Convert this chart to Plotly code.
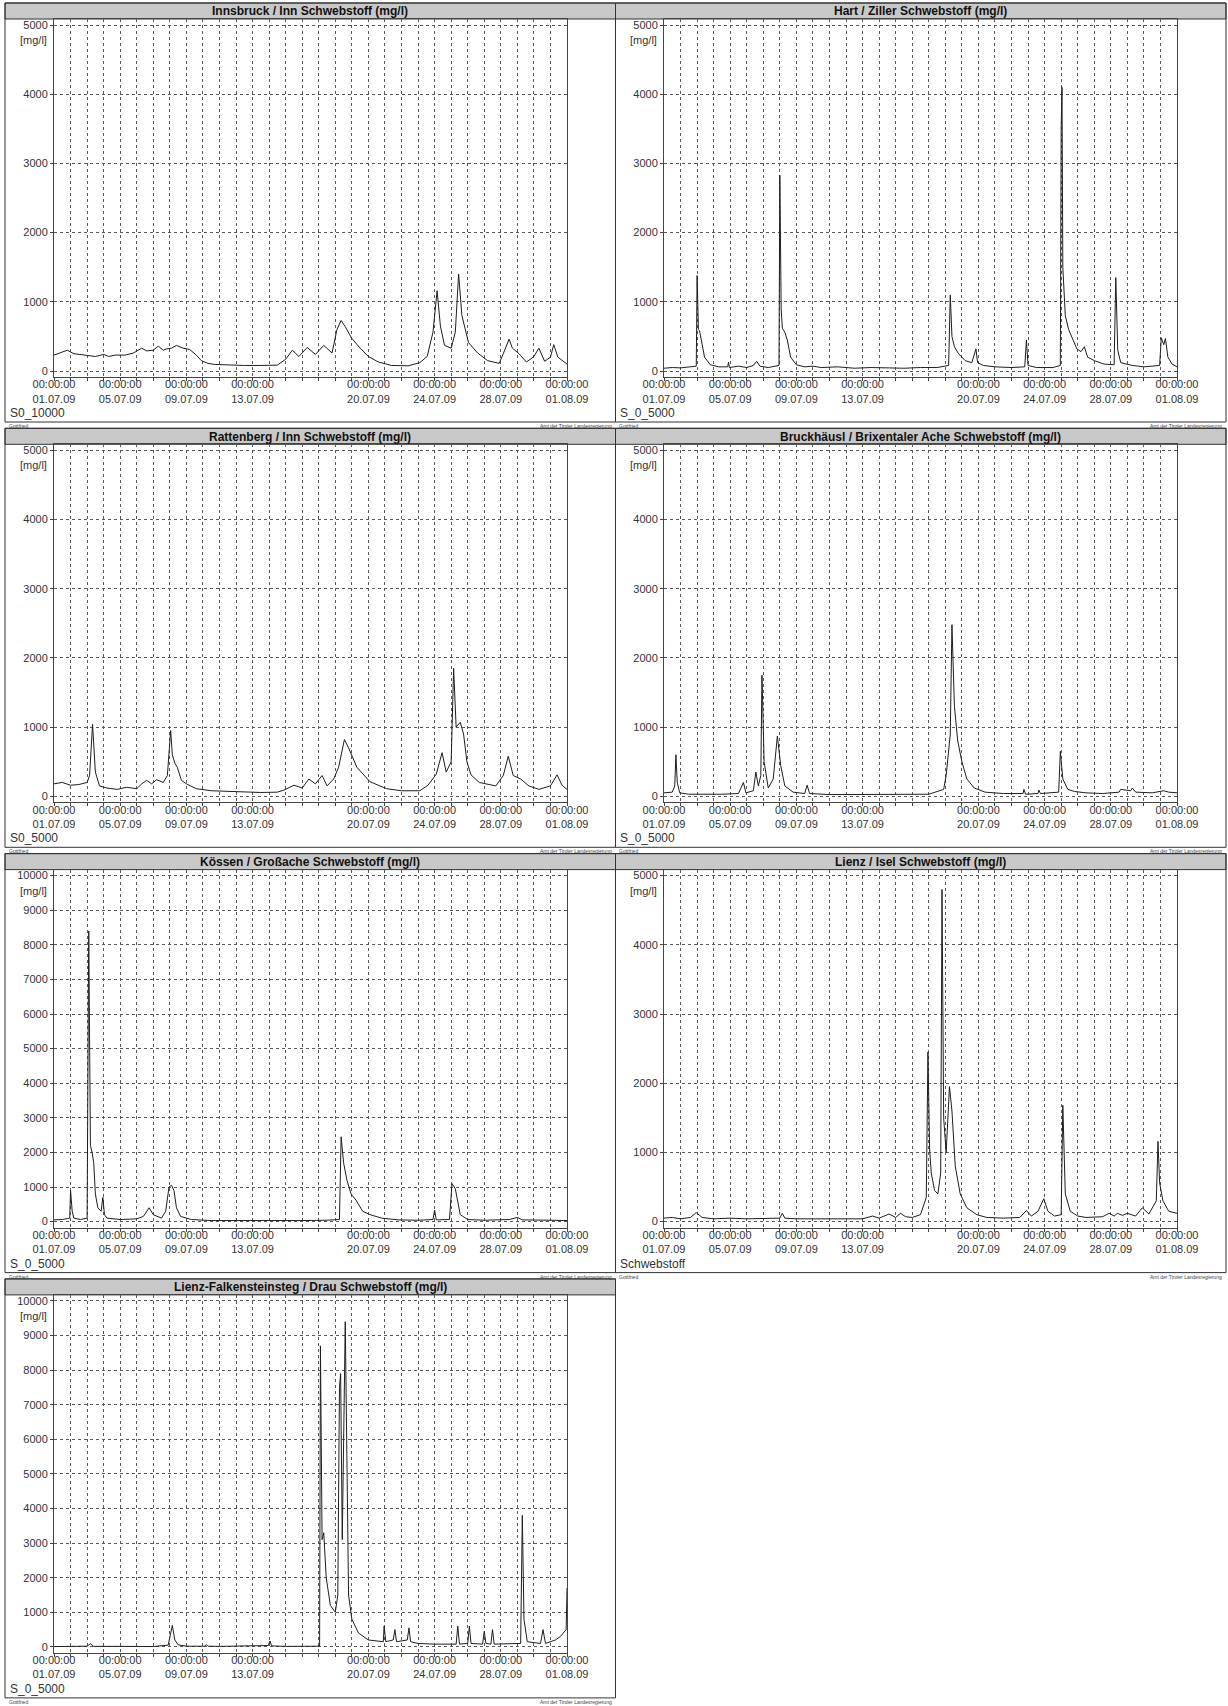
import plotly.graph_objects as go
import pandas as pd

W, H = 1228, 1706
BASE = pd.Timestamp("2009-07-01")
END = pd.Timestamp("2009-08-01")

# ---------------- data (days after 01.07.09 00:00, value in mg/l) ----------------
titles = [
    "Innsbruck / Inn Schwebstoff (mg/l)",
    "Hart / Ziller Schwebstoff (mg/l)",
    "Rattenberg / Inn Schwebstoff (mg/l)",
    "Bruckhäusl / Brixentaler Ache Schwebstoff (mg/l)",
    "Kössen / Großache Schwebstoff (mg/l)",
    "Lienz / Isel Schwebstoff (mg/l)",
    "Lienz-Falkensteinsteg / Drau Schwebstoff (mg/l)",
]
y_max = [5000, 5000, 5000, 5000, 10000, 5000, 10000]
bottom_labels = ["S0_10000", "S_0_5000", "S0_5000", "S_0_5000", "S_0_5000", "Schwebstoff", "S_0_5000"]
tick_labels = ["01.07.09", "05.07.09", "09.07.09", "13.07.09", "20.07.09", "24.07.09", "28.07.09", "01.08.09"]

innsbruck_days = [0, 0.4, 0.8, 1.2, 1.6, 2.0, 2.5, 3.0, 3.3, 3.7, 4.3, 4.8, 5.3, 5.6, 6.0, 6.3, 6.6, 6.8, 7.1, 7.4,
                  7.8, 8.2, 8.6, 8.9, 9.3, 9.7, 10.5, 11.5, 12.5, 13.5, 14.0, 14.4, 14.8, 15.3, 15.8, 16.3, 16.8,
                  17.1, 17.35, 17.6, 18.0, 18.5, 19.0, 19.6, 20.4, 21.4, 22.1, 22.55, 22.9, 23.15, 23.35, 23.6,
                  24.0, 24.25, 24.45, 24.65, 25.05, 25.6, 26.2, 26.9, 27.15, 27.5, 27.7, 28.1, 28.55, 29.0, 29.3,
                  29.65, 30.0, 30.2, 30.45, 31.0]
innsbruck_vals = [230, 260, 300, 250, 240, 230, 210, 240, 210, 230, 230, 260, 330, 290, 300, 360, 300, 320, 330, 370,
                  330, 310, 230, 150, 110, 95, 85, 80, 80, 85, 170, 300, 210, 340, 240, 370, 260,
                  600, 730, 640, 470, 330, 210, 130, 80, 75, 120, 210, 560, 1160, 650, 370,
                  330, 560, 1400, 800, 410, 260, 150, 110, 250, 460, 330, 250, 130, 210, 330,
                  140, 200, 380, 200, 100]

hart_days = [0, 0.5, 1.0, 1.5, 1.95, 2.0, 2.08, 2.15, 2.25, 2.45, 2.8, 3.3, 3.85, 3.9, 3.95, 4.5, 5.0, 5.4, 5.6, 5.8,
             6.3, 6.95, 7.0, 7.08, 7.15, 7.3, 7.45, 7.65, 8.0, 8.5, 9.0, 9.5, 10.5, 11.5, 12.5, 13.5, 14.5, 15.5,
             16.5, 17.2, 17.3, 17.4, 17.55, 17.8, 18.2, 18.6, 18.85, 18.95, 19.3, 20.0, 21.0, 21.8, 21.9, 22.0,
             22.5, 23.5, 23.95, 24.0, 24.05, 24.1, 24.25, 24.45, 24.7, 24.95, 25.2, 25.4, 25.6, 26.0, 26.6, 27.2,
             27.3, 27.42, 27.6, 28.3, 29.0, 29.5, 29.95, 30.05, 30.2, 30.3, 30.45, 30.7, 31.0]
hart_vals = [40, 50, 45, 60, 70, 1380, 600, 580, 450, 200, 90, 60, 60, 130, 50, 70, 50, 80, 140, 70,
             50, 80, 2830, 900, 620, 560, 450, 200, 90, 60, 70, 50, 60, 40, 50, 40, 40, 50,
             50, 80, 1100, 500, 350, 250, 150, 120, 320, 120, 80, 60, 50, 60, 450, 80,
             50, 50, 80, 3500, 4100, 1500, 800, 600, 450, 320, 280, 350, 200, 150, 100, 90,
             1350, 300, 120, 80, 60, 70, 80, 480, 380, 470, 200, 100, 60]

rattenberg_days = [0, 0.5, 1.0, 1.5, 2.0, 2.15, 2.33, 2.5, 2.75, 3.2, 3.8, 4.4, 5.0, 5.3, 5.6, 5.9, 6.2, 6.6, 6.85,
                   7.05, 7.15, 7.3, 7.45, 7.7, 8.0, 8.6, 9.5, 10.5, 11.5, 12.5, 13.5, 13.9, 14.5, 15.0, 15.4, 15.8,
                   16.2, 16.5, 16.9, 17.2, 17.55, 17.8, 18.3, 19.1, 20.1, 21.0, 22.1, 22.6, 23.1, 23.45, 23.7, 24.0,
                   24.15, 24.3, 24.55, 24.75, 24.95, 25.2, 25.7, 26.7, 27.15, 27.45, 27.75, 28.2, 28.7, 29.3, 30.0,
                   30.4, 30.7, 31.0]
rattenberg_vals = [180, 200, 160, 170, 200, 300, 1040, 350, 150, 120, 100, 130, 110, 180, 230, 180, 240, 200, 300,
                   950, 600, 480, 420, 230, 180, 110, 80, 70, 60, 55, 60, 90, 160, 120, 250, 180,
                   300, 150, 250, 420, 820, 700, 420, 210, 110, 80, 80, 160, 320, 630, 350, 500,
                   1850, 1000, 1070, 900, 500, 310, 200, 150, 300, 580, 300, 250, 150, 100, 150,
                   310, 160, 100]

bruck_days = [0, 0.5, 0.65, 0.72, 0.8, 0.95, 1.5, 2.5, 3.5, 4.5, 4.8, 4.95, 5.4, 5.55, 5.7, 5.85, 5.92, 6.05, 6.3,
              6.6, 6.85, 7.05, 7.3, 7.8, 8.5, 8.65, 8.8, 10.0, 12.0, 14.0, 16.0, 16.9, 17.05, 17.3, 17.4, 17.55,
              17.75, 18.0, 18.3, 18.75, 19.4, 20.5, 21.7, 21.75, 21.85, 22.6, 22.65, 22.75, 23.85, 23.95, 24.1,
              24.4, 24.8, 25.5, 26.5, 27.5, 27.6, 28.2, 28.3, 28.5, 29.5, 30.2, 30.5, 31.0]
bruck_vals = [50, 60, 150, 600, 200, 50, 30, 25, 30, 40, 200, 50, 80, 350, 150, 300, 1750, 500, 120,
              250, 870, 450, 150, 60, 40, 160, 40, 25, 25, 30, 30, 100, 300, 900, 2480, 1300,
              800, 500, 250, 120, 60, 40, 40, 100, 30, 40, 90, 40, 60, 650, 250,
              100, 70, 50, 40, 60, 100, 80, 120, 60, 50, 80, 60, 50]

koessen_days = [0, 0.5, 0.95, 1.0, 1.1, 1.2, 1.6, 2.0, 2.1, 2.2, 2.3, 2.4, 2.5, 2.65, 2.85, 2.95, 3.05, 3.2, 4.0,
                5.0, 5.4, 5.75, 6.0, 6.5, 6.75, 6.95, 7.1, 7.25, 7.4, 7.65, 8.3, 9.5, 11.0, 13.0, 15.0, 16.5,
                17.25, 17.35, 17.5, 17.7, 17.95, 18.25, 18.65, 19.1, 19.8, 20.8, 22.0, 22.9, 23.0, 23.1, 23.9,
                24.05, 24.25, 24.55, 25.0, 26.0, 27.5, 28.0, 28.3, 30.0, 31.0]
koessen_vals = [50, 60, 100, 900, 300, 100, 60, 100, 8400, 2200, 2000, 1700, 800, 400, 300, 700, 200, 100, 60,
                80, 150, 400, 200, 100, 300, 1000, 1050, 900, 400, 150, 60, 30, 30, 25, 30, 40,
                60, 2450, 1700, 1200, 800, 620, 300, 200, 100, 50, 40, 60, 330, 50, 60,
                1100, 950, 200, 60, 40, 60, 120, 50, 40, 30]

isel_days = [0, 0.5, 1.0, 1.6, 1.95, 2.3, 3.0, 4.0, 5.0, 6.0, 7.0, 7.15, 7.3, 8.0, 9.0, 10.0, 11.0, 12.0, 12.6, 13.0,
             13.6, 14.0, 14.3, 14.6, 15.0, 15.5, 15.85, 15.95, 16.05, 16.15, 16.35, 16.55, 16.72, 16.8, 16.9,
             17.05, 17.25, 17.4, 17.6, 17.9, 18.3, 18.9, 19.5, 20.5, 21.5, 21.9, 22.2, 22.6, 22.95, 23.2, 23.6,
             24.0, 24.1, 24.25, 24.55, 25.0, 25.5, 26.5, 26.9, 27.2, 27.4, 27.7, 28.0, 28.5, 28.9, 29.3, 29.75,
             29.85, 29.95, 30.15, 30.5, 31.0]
isel_vals = [50, 60, 40, 60, 130, 60, 40, 50, 40, 50, 50, 120, 50, 40, 40, 35, 40, 40, 80, 50,
             110, 60, 120, 70, 60, 100, 350, 2450, 1050, 700, 450, 400, 700, 4800, 1500,
             1000, 1950, 1600, 800, 400, 200, 100, 60, 50, 60, 160, 80, 150, 330, 150, 80,
             100, 1680, 400, 150, 80, 60, 70, 120, 80, 120, 90, 120, 80, 200, 110, 300,
             1160, 560, 300, 150, 120]

drau_days = [0, 1.0, 2.0, 2.2, 2.4, 4.0, 5.0, 6.0, 6.9, 7.15, 7.3, 7.5, 8.0, 9.1, 9.2, 9.3, 10.0, 11.0, 12.0, 12.95,
             13.05, 13.15, 14.0, 15.0, 16.05, 16.1, 16.2, 16.3, 16.45, 16.7, 17.0, 17.15, 17.25, 17.32, 17.42,
             17.6, 17.7, 17.8, 18.0, 18.4, 19.0, 19.9, 19.95, 20.05, 20.5, 20.6, 20.7, 21.35, 21.45, 21.55,
             22.0, 23.0, 24.3, 24.4, 24.5, 25.0, 25.1, 25.2, 25.9, 26.0, 26.1, 26.4, 26.5, 26.6, 28.2, 28.3,
             28.4, 28.6, 29.4, 29.55, 29.7, 30.0, 30.3, 30.6, 30.8, 30.95, 31.0]
drau_vals = [10, 15, 20, 90, 15, 15, 20, 10, 50, 620, 200, 60, 20, 20, 70, 20, 15, 20, 15, 40,
             170, 30, 15, 10, 20, 8700, 3100, 3300, 2000, 1200, 1000, 1500, 7500, 7900, 3100,
             9400, 4500, 1500, 800, 400, 200, 150, 600, 150, 200, 500, 150, 200, 550, 150,
             100, 80, 80, 600, 80, 100, 600, 100, 80, 450, 100, 80, 500, 80, 100, 3800,
             800, 150, 100, 500, 100, 150, 200, 300, 400, 500, 1700]

series_days = [innsbruck_days, hart_days, rattenberg_days, bruck_days, koessen_days, isel_days, drau_days]
series_vals = [innsbruck_vals, hart_vals, rattenberg_vals, bruck_vals, koessen_vals, isel_vals, drau_vals]

# ---------------- layout geometry (pixels) ----------------
PANEL_X = [(5, 615.5), (615.5, 1226)]
PLOT_X = [(54, 567), (664, 1177)]
ROW_TOP0, ROW_PITCH = 3, 425.3
FONT = "Liberation Sans, Arial, Helvetica, sans-serif"
GRID = "#5a5a5a"


def px(x):
    return x / W


def py(y):
    return 1 - y / H


tick_dates = pd.date_range(BASE, END, freq="D")
tick_text = []
for d in tick_dates:
    s = d.strftime("%d.%m.%y")
    tick_text.append("00:00:00<br>" + s if s in tick_labels else "")

fig = go.Figure()
shapes, annotations = [], []

for i in range(7):
    r, c = divmod(i, 2)
    top = ROW_TOP0 + ROW_PITCH * r
    n = "" if i == 0 else str(i + 1)
    ymx = y_max[i]
    per_px = ymx / 346.0
    xs = [BASE + pd.Timedelta(days=d) for d in series_days[i]]
    fig.add_trace(go.Scatter(x=xs, y=series_vals[i], mode="lines",
                             line=dict(color="#1e1e1e", width=1),
                             xaxis="x" + n, yaxis="y" + n, showlegend=False,
                             hoverinfo="x+y"))
    axis_common = dict(showgrid=True, gridcolor=GRID, griddash="dot", gridwidth=1,
                       showline=True, linecolor="#444", linewidth=1, mirror=True,
                       ticks="outside", ticklen=3, tickcolor="#444", zeroline=False,
                       automargin=False,
                       tickfont=dict(family=FONT, size=11, color="#333"))
    fig.update_layout(**{
        "xaxis" + n: dict(axis_common, type="date", range=[BASE, END],
                          domain=[px(PLOT_X[c][0]), px(PLOT_X[c][1])],
                          anchor="y" + n, tickmode="array", ticklabelstandoff=-6,
                          tickvals=list(tick_dates), ticktext=tick_text, tickangle=0),
        "yaxis" + n: dict(axis_common, range=[-6 * per_px, ymx + 6 * per_px],
                          domain=[py(top + 374), py(top + 16)], anchor="x" + n,
                          tickmode="array", tickvals=list(range(0, ymx + 1, 1000)),
                          ticktext=[str(v) for v in range(0, ymx + 1, 1000)]),
    })
    x0, x1 = PANEL_X[c]
    # panel frame
    shapes.append(dict(type="rect", xref="paper", yref="paper", x0=px(x0), x1=px(x1),
                       y0=py(top + 419), y1=py(top), line=dict(color="#333", width=1),
                       fillcolor="rgba(0,0,0,0)", layer="above"))
    # title bar
    shapes.append(dict(type="rect", xref="paper", yref="paper", x0=px(x0), x1=px(x1),
                       y0=py(top + 16), y1=py(top), line=dict(color="#333", width=1),
                       fillcolor="#c8c8c8", layer="below"))
    annotations.append(dict(xref="paper", yref="paper", x=px((x0 + x1) / 2), y=py(top + 8.5),
                            text="<b>" + titles[i] + "</b>", showarrow=False,
                            xanchor="center", yanchor="middle",
                            font=dict(family=FONT, size=12, color="#111")))
    annotations.append(dict(xref="paper", yref="paper", x=px(PLOT_X[c][0] - 5), y=py(top + 37),
                            text="[mg/l]", showarrow=False, xanchor="right", yanchor="middle",
                            font=dict(family=FONT, size=11, color="#333")))
    annotations.append(dict(xref="paper", yref="paper", x=px(x0 + 3), y=py(top + 410),
                            text=bottom_labels[i], showarrow=False, xanchor="left", yanchor="middle",
                            font=dict(family=FONT, size=12, color="#333")))
    annotations.append(dict(xref="paper", yref="paper", x=px(x0 + 2), y=py(top + 423),
                            text="Gottfried", showarrow=False, xanchor="left", yanchor="middle",
                            font=dict(family=FONT, size=5, color="#444")))
    annotations.append(dict(xref="paper", yref="paper", x=px(x1 - 2), y=py(top + 423),
                            text="Amt der Tiroler Landesregierung", showarrow=False,
                            xanchor="right", yanchor="middle",
                            font=dict(family=FONT, size=5, color="#444")))

fig.update_layout(width=W, height=H, margin=dict(l=0, r=0, t=0, b=0, autoexpand=False),
                  paper_bgcolor="white", plot_bgcolor="white",
                  shapes=shapes, annotations=annotations, showlegend=False)

fig.write_html("out.html")
